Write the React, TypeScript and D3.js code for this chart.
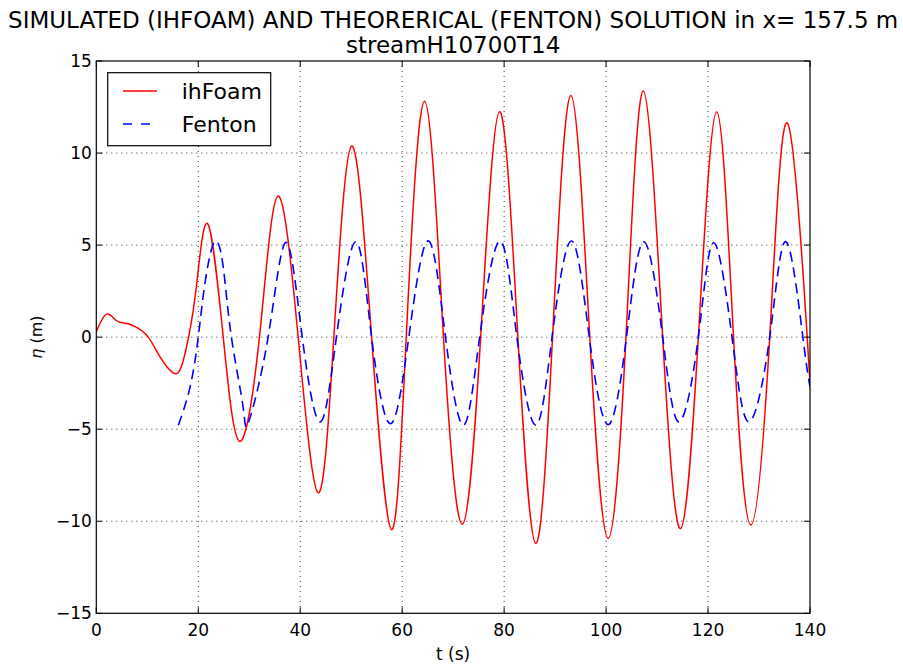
import React from 'react';
import * as d3 from 'd3';

const W = 903;
const H = 668;
const PLOT = { left: 96.3, right: 810, top: 61, bottom: 613.3 };

// ihFoam simulated free surface
const ihfoamT = [
  0, 2.0, 4.0, 6.0, 7.9, 10.2, 12.5, 15.1, 16.7, 18.1, 19.7, 21.9, 24.9, 28.1, 32.0,
  35.6, 39.6, 43.5, 46.6, 50.1, 54.0, 57.9, 60.8, 64.4, 68.1, 71.8, 75.4, 79.1, 82.7,
  86.2, 89.5, 93.1, 96.8, 100.4, 103.9, 107.3, 111.1, 114.6, 118.1, 121.7, 125.0,
  128.4, 132.1, 135.6, 139.45, 140,
];
const ihfoamEta = [
  0.3, 1.25, 0.89, 0.74, 0.53, 0.0, -1.07, -1.94, -1.6, 0, 2.9, 6.14, 0, -5.66, 0,
  7.66, 0, -8.45, 0, 10.38, 0, -10.45, 0, 12.82, 0, -10.16, 0, 12.25, 0,
  -11.2, 0, 13.12, 0, -10.92, 0, 13.37, 0, -10.4, 0, 12.25, 0,
  -10.2, 0, 11.62, 0, -2.5,
];

// Fenton stream function theory
const fentonT = [
  16.1, 18.4, 20.0, 21.3, 23.2, 24.9, 26.5, 28.8, 29.9, 33.7, 37.2, 40.4, 43.9, 47.1,
  50.9, 54.0, 57.7, 61.3, 65.1, 68.5, 72.0, 75.2, 79.2, 82.5, 86.2, 89.4, 93.2, 96.7,
  100.4, 104.0, 107.4, 111.1, 114.3, 118.1, 121.1, 124.7, 128.0, 132.1, 135.3, 138.6, 140,
];
const fentonEta = [
  -4.78, -2.7, 0, 2.9, 5.18, 3.8, 0, -3.8, -4.6, 0, 5.15, 0, -4.6, 0,
  5.18, 0, -4.7, 0, 5.23, 0, -4.78, 0, 5.22, 0, -4.78, 0, 5.22, 0,
  -4.75, 0, 5.18, 0, -4.6, 0, 5.13, 0, -4.6, 0, 5.18, 0, -2.7,
];

const xTicks = [0, 20, 40, 60, 80, 100, 120, 140];
const yTicks = [-15, -10, -5, 0, 5, 10, 15];

const FONT = 'DejaVu Sans, sans-serif';

export default function App() {
  const x = d3.scaleLinear().domain([0, 140]).range([PLOT.left, PLOT.right]);
  const y = d3.scaleLinear().domain([-15, 15]).range([PLOT.bottom, PLOT.top]);

  const line = d3
    .line<[number, number]>()
    .x((d) => x(d[0]))
    .y((d) => y(d[1]))
    .curve(d3.curveNatural);

  const ihfoam = ihfoamT.map((t, i) => [t, ihfoamEta[i]] as [number, number]);
  const fenton = fentonT.map((t, i) => [t, fentonEta[i]] as [number, number]);

  const pw = PLOT.right - PLOT.left;
  const ph = PLOT.bottom - PLOT.top;
  const cx = (PLOT.left + PLOT.right) / 2;
  const TICK = 6;

  return (
    <svg
      width={W}
      height={H}
      style={{ position: 'absolute', left: 0, top: 0, background: '#fff' }}
      fontFamily={FONT}
    >
      <defs>
        <clipPath id="plot-clip">
          <rect x={PLOT.left} y={PLOT.top} width={pw} height={ph} />
        </clipPath>
      </defs>
      <rect width={W} height={H} fill="#fff" />

      {/* title */}
      <text x={cx} y={28} textAnchor="middle" fontSize={23} fill="#000">
        SIMULATED (IHFOAM) AND THEORERICAL (FENTON) SOLUTION in x= 157.5 m
      </text>
      <text x={cx} y={53} textAnchor="middle" fontSize={23} fill="#000">
        streamH10700T14
      </text>

      {/* grid */}
      <g stroke="#000" strokeWidth={0.8} strokeDasharray="1,4">
        {xTicks.slice(1, -1).map((t) => (
          <line key={`gx${t}`} x1={x(t)} x2={x(t)} y1={PLOT.top} y2={PLOT.bottom} />
        ))}
        {yTicks.slice(1, -1).map((v) => (
          <line key={`gy${v}`} x1={PLOT.left} x2={PLOT.right} y1={y(v)} y2={y(v)} />
        ))}
      </g>

      {/* series */}
      <g clipPath="url(#plot-clip)" fill="none">
        <path d={line(ihfoam) ?? ''} stroke="#ff0000" strokeWidth={1.5} />
        <path d={line(fenton) ?? ''} stroke="#0000ff" strokeWidth={1.6} strokeDasharray="10,6" />
      </g>

      {/* frame + ticks */}
      <rect x={PLOT.left} y={PLOT.top} width={pw} height={ph} fill="none" stroke="#000" strokeWidth={1.2} />
      <g stroke="#000" strokeWidth={1}>
        {xTicks.map((t) => (
          <g key={`tx${t}`}>
            <line x1={x(t)} x2={x(t)} y1={PLOT.bottom} y2={PLOT.bottom - TICK} />
            <line x1={x(t)} x2={x(t)} y1={PLOT.top} y2={PLOT.top + TICK} />
          </g>
        ))}
        {yTicks.map((v) => (
          <g key={`ty${v}`}>
            <line x1={PLOT.left} x2={PLOT.left + TICK} y1={y(v)} y2={y(v)} />
            <line x1={PLOT.right} x2={PLOT.right - TICK} y1={y(v)} y2={y(v)} />
          </g>
        ))}
      </g>

      {/* tick labels */}
      <g fontSize={17} fill="#000">
        {xTicks.map((t) => (
          <text key={`lx${t}`} x={x(t)} y={PLOT.bottom + 23} textAnchor="middle">
            {t}
          </text>
        ))}
        {yTicks.map((v) => (
          <text key={`ly${v}`} x={PLOT.left - 4.5} y={y(v) + 6} textAnchor="end">
            {v < 0 ? `\u2212${Math.abs(v)}` : v}
          </text>
        ))}
      </g>

      {/* axis labels */}
      <text x={cx} y={660} textAnchor="middle" fontSize={17} fill="#000">
        t (s)
      </text>
      <text
        transform={`translate(42,${(PLOT.top + PLOT.bottom) / 2}) rotate(-90)`}
        textAnchor="middle"
        fontSize={16}
        fill="#000"
      >
        <tspan fontStyle="italic">η</tspan> (m)
      </text>

      {/* legend */}
      <g>
        <rect x={107.7} y={72.7} width={163} height={73} fill="#fff" stroke="#000" strokeWidth={1.2} />
        <line x1={123} x2={157} y1={91} y2={91} stroke="#ff0000" strokeWidth={1.5} />
        <text x={181.7} y={99} fontSize={22} fill="#000">ihFoam</text>
        <line x1={123} x2={157} y1={124} y2={124} stroke="#0000ff" strokeWidth={1.6} strokeDasharray="9,9" />
        <text x={181.7} y={132} fontSize={22} fill="#000">Fenton</text>
      </g>
    </svg>
  );
}
